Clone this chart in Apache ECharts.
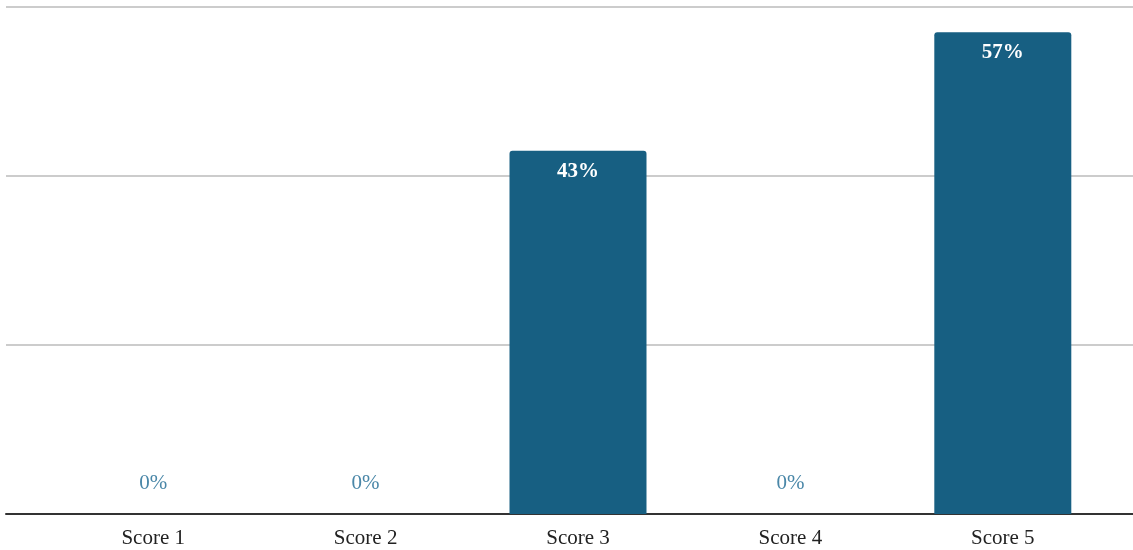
<!DOCTYPE html>
<html><head><meta charset="utf-8">
<script src="https://cdn.jsdelivr.net/npm/echarts@6/dist/echarts.min.js"></script>
<style>html,body{margin:0;padding:0;background:#fff}#c{width:1133px;height:550px}</style>
</head><body><div id="c"></div>
<script>
const categories = ['Score 1','Score 2','Score 3','Score 4','Score 5'];
const values = [0, 0, 43, 0, 57];
const yMax = 60, yInterval = 20;

const chart = echarts.init(document.getElementById('c'));
const font = '"Liberation Serif", "Times New Roman", serif';
chart.setOption({
  animation: false,
  grid: [
    {left: 6, right: 0, top: 7, bottom: 36},
    {left: 47, right: 24, top: 7, bottom: 36}
  ],
  xAxis: [
    {gridIndex: 0, type: 'category', data: [''], axisLine: {show: true, lineStyle: {color: '#333', width: 2}}, axisTick: {show: false}, axisLabel: {show: false}},
    {gridIndex: 1, type: 'category', data: categories, axisLine: {show: false}, axisTick: {show: false},
     axisLabel: {color: '#222', fontFamily: font, fontSize: 21, margin: 14}}
  ],
  yAxis: [
    {gridIndex: 0, type: 'value', min: 0, max: yMax, interval: yInterval, axisLabel: {show: false}, axisLine: {show: false}, axisTick: {show: false},
     splitLine: {lineStyle: {color: '#cccccc', width: 2}}},
    {gridIndex: 1, type: 'value', min: 0, max: yMax, interval: yInterval, axisLabel: {show: false}, axisLine: {show: false}, axisTick: {show: false}, splitLine: {show: false}}
  ],
  series: [{
    type: 'bar', xAxisIndex: 1, yAxisIndex: 1,
    barWidth: '64.5%',
    itemStyle: {color: '#175f82', borderRadius: [3,3,0,0]},
    data: values.map(v => v > 0 ? {
      value: v,
      label: {show: true, position: 'insideTop', distance: 10, color: '#fff', fontWeight: 'bold', fontFamily: font, fontSize: 21, formatter: '{c}%'}
    } : {
      value: v,
      label: {show: true, position: 'top', distance: 20, color: '#4a87a8', fontFamily: font, fontSize: 21, formatter: '{c}%'}
    })
  }]
});
</script></body></html>
